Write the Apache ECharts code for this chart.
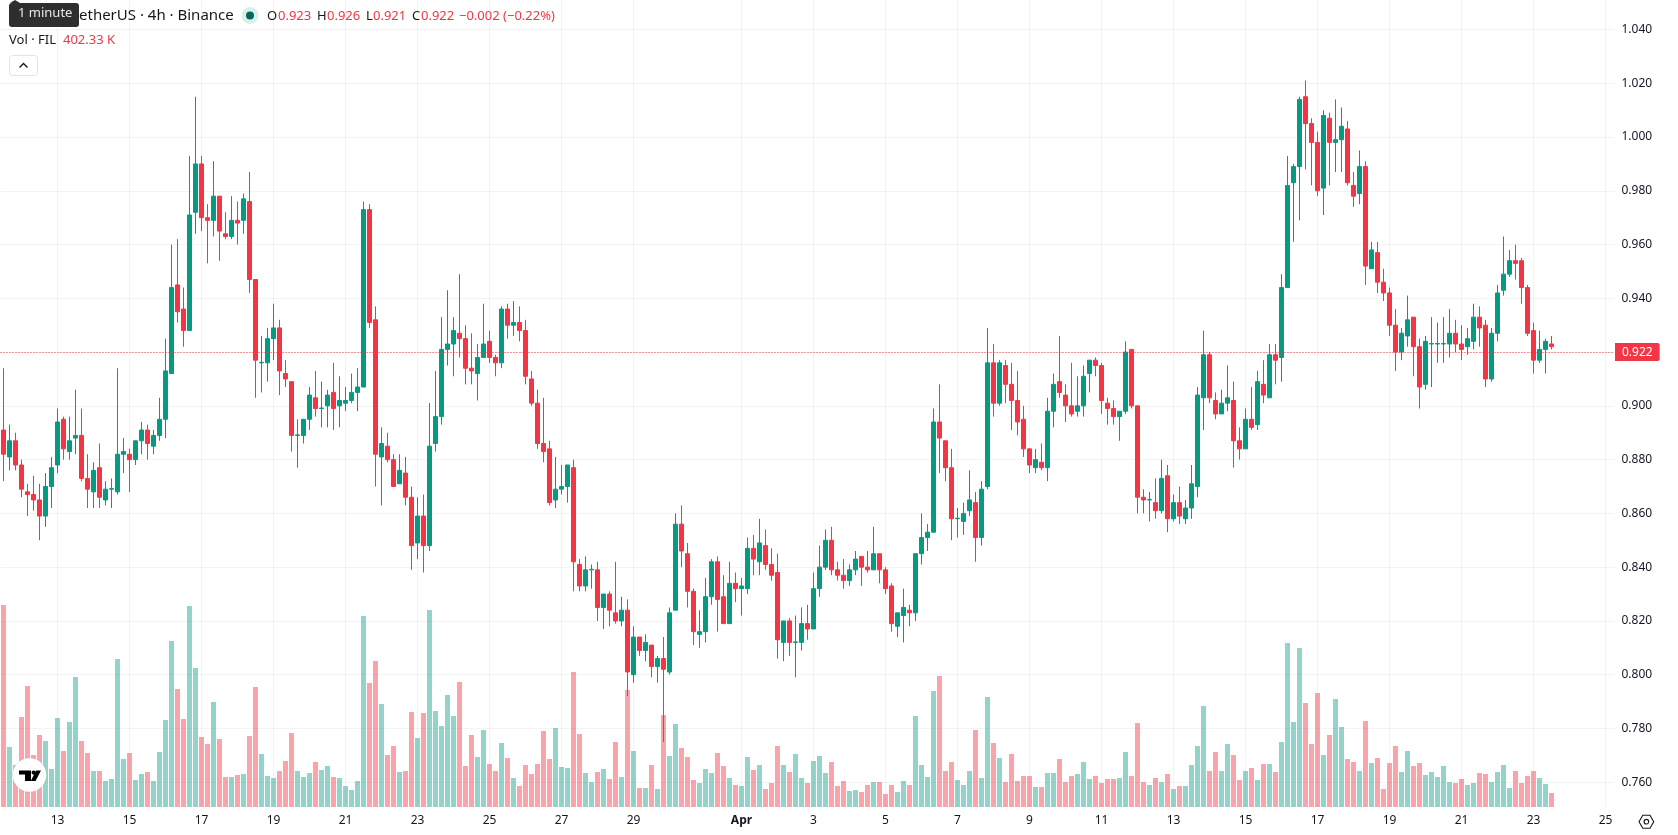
<!DOCTYPE html>
<html>
<head>
<meta charset="utf-8">
<title>FIL / TetherUS 4h</title>
<style>
  html, body { margin: 0; padding: 0; background: #fff; }
  #chart { width: 1678px; height: 835px; }
</style>
<script src="https://cdn.jsdelivr.net/npm/echarts@6/dist/echarts.min.js"></script>
</head>
<body>
<div id="chart"></div>
<script>
// 4h candles, oldest first
const opens = [
  .891,.881,.887,.878,.868,.867,.865,.859,.870,.878,
  .895,.883,.888,.889,.873,.868,.877,.865,.869,.868,
  .882,.882,.880,.887,.891,.885,.889,.895,.912,.945,
  .936,.928,.972,.990,.970,.969,.978,.964,.963,.969,
  .969,.976,.947,.916,.916,.925,.929,.912,.909,.889,
  .889,.895,.903,.899,.900,.905,.900,.901,.902,.905,
  .907,.973,.932,.881,.885,.880,.871,.875,.866,.849,
  .859,.848,.886,.896,.921,.923,.927,.925,.914,.912,
  .918,.924,.918,.916,.936,.930,.931,.928,.910,.901,
  .886,.884,.865,.869,.870,.877,.841,.833,.839,.839,
  .825,.830,.823,.820,.824,.800,.814,.809,.811,.803,
  .806,.801,.824,.856,.845,.831,.815,.816,.829,.842,
  .829,.819,.834,.832,.832,.847,.842,.848,.841,.838,
  .812,.820,.812,.812,.819,.817,.832,.840,.850,.839,
  .837,.835,.839,.844,.840,.839,.845,.839,.833,.818,
  .822,.824,.823,.845,.851,.853,.894,.887,.877,.858,
  .857,.861,.864,.851,.870,.916,.901,.915,.908,.902,
  .895,.884,.877,.879,.877,.898,.909,.904,.900,.898,
  .900,.912,.917,.915,.901,.899,.896,.898,.921,.900,
  .866,.865,.864,.861,.874,.858,.864,.858,.862,.870,
  .903,.919,.902,.897,.901,.902,.887,.884,.895,.893,
  .908,.903,.919,.918,.944,.983,.989,1.015,1.005,.998,
  .981,1.007,.998,.999,1.003,.982,.979,.989,.951,.957,
  .946,.942,.930,.920,.926,.933,.922,.908,.923,.923,
  .923,.923,.927,.923,.922,.924,.933,.930,.910,.927,
  .943,.949,.954,.954,.944,.928,.917,.921,.923
];
const closes = [
  .882,.887,.878,.869,.867,.865,.859,.870,.877,.894,
  .884,.887,.889,.873,.869,.876,.866,.869,.8692,.882,
  .883,.880,.887,.891,.886,.889,.895,.913,.944,.935,
  .928,.971,.990,.970,.969,.978,.965,.963,.969,.968,
  .977,.947,.917,.9162,.925,.929,.913,.910,.889,.8892,
  .895,.904,.899,.8992,.904,.899,.902,.902,.905,.907,
  .973,.931,.882,.886,.880,.870,.876,.866,.848,.859,
  .848,.885,.896,.921,.923,.928,.925,.914,.913,.918,
  .923,.918,.916,.936,.930,.931,.928,.911,.901,.886,
  .883,.864,.869,.870,.878,.842,.833,.839,.8392,.825,
  .830,.824,.820,.824,.801,.814,.809,.812,.803,.806,
  .802,.823,.856,.846,.831,.816,.816,.829,.842,.828,
  .819,.834,.832,.833,.847,.843,.849,.841,.837,.813,
  .820,.812,.8122,.819,.817,.832,.840,.850,.839,.837,
  .835,.839,.843,.840,.839,.845,.839,.832,.819,.823,
  .825,.823,.845,.851,.853,.894,.888,.877,.858,.8582,
  .860,.865,.851,.869,.916,.901,.916,.908,.902,.894,
  .884,.878,.880,.877,.898,.908,.905,.900,.897,.900,
  .911,.917,.915,.902,.899,.896,.898,.920,.900,.866,
  .865,.8652,.861,.873,.858,.864,.859,.862,.871,.904,
  .919,.903,.897,.901,.903,.887,.884,.895,.892,.909,
  .904,.919,.917,.944,.982,.989,1.014,1.005,.998,.980,
  1.008,.998,.999,1.004,.983,.978,.989,.952,.958,.946,
  .942,.930,.920,.927,.932,.922,.907,.924,.9232,.9232,
  .9232,.927,.923,.921,.925,.933,.929,.910,.927,.942,
  .949,.954,.953,.944,.927,.917,.921,.924,.922
];
const highs = [
  .914,.893,.890,.880,.871,.874,.871,.875,.881,.899,
  .896,.896,.906,.899,.882,.879,.886,.872,.873,.914,
  .888,.884,.887,.894,.893,.891,.903,.925,.960,.962,
  .944,.993,1.015,.993,.975,.991,.978,.972,.978,.976,
  .979,.987,.947,.926,.929,.938,.932,.917,.909,.895,
  .895,.907,.913,.909,.906,.916,.911,.907,.912,.914,
  .976,.975,.937,.892,.890,.882,.882,.881,.870,.866,
  .867,.901,.913,.933,.943,.933,.949,.930,.927,.923,
  .938,.928,.919,.937,.938,.939,.937,.932,.913,.906,
  .903,.887,.881,.878,.878,.880,.843,.844,.841,.842,
  .830,.831,.842,.829,.828,.818,.814,.815,.811,.807,
  .814,.825,.860,.863,.849,.832,.824,.836,.843,.844,
  .837,.842,.838,.836,.851,.852,.858,.854,.847,.845,
  .820,.821,.822,.825,.826,.838,.848,.854,.855,.842,
  .843,.841,.846,.844,.846,.855,.845,.840,.834,.823,
  .832,.826,.845,.860,.856,.899,.908,.887,.884,.862,
  .864,.876,.868,.872,.929,.923,.917,.917,.916,.913,
  .900,.884,.884,.886,.903,.912,.926,.908,.916,.911,
  .915,.917,.918,.916,.903,.902,.898,.924,.921,.900,
  .869,.868,.873,.880,.878,.867,.870,.865,.878,.907,
  .928,.920,.905,.906,.915,.909,.892,.899,.907,.913,
  .917,.923,.923,.949,.993,.990,1.015,1.021,1.007,1.002,
  1.010,1.009,1.014,1.011,1.006,.987,.995,.991,.961,.961,
  .951,.944,.936,.929,.941,.933,.925,.926,.933,.931,
  .933,.936,.932,.930,.929,.938,.937,.932,.929,.945,
  .963,.958,.960,.955,.945,.931,.928,.925,.926
];
const lows = [
  .872,.876,.876,.866,.859,.861,.850,.855,.862,.875,
  .880,.880,.882,.872,.862,.862,.862,.863,.862,.867,
  .875,.868,.878,.882,.880,.882,.887,.888,.912,.931,
  .922,.928,.964,.965,.953,.963,.954,.962,.962,.960,
  .964,.942,.903,.905,.909,.917,.904,.907,.883,.877,
  .886,.891,.896,.892,.892,.891,.892,.898,.901,.898,
  .907,.929,.870,.863,.879,.870,.871,.863,.839,.843,
  .838,.846,.883,.893,.915,.911,.918,.908,.908,.902,
  .918,.916,.911,.914,.925,.926,.924,.908,.900,.884,
  .879,.863,.862,.867,.864,.831,.831,.831,.832,.820,
  .817,.818,.819,.818,.792,.797,.807,.805,.799,.797,
  .775,.800,.824,.840,.825,.811,.810,.812,.826,.816,
  .819,.819,.827,.822,.830,.837,.837,.839,.835,.806,
  .805,.807,.799,.809,.813,.817,.829,.839,.837,.835,
  .832,.833,.837,.833,.838,.839,.834,.830,.816,.814,
  .812,.818,.820,.841,.846,.853,.875,.872,.850,.851,
  .852,.859,.842,.848,.869,.896,.900,.901,.891,.889,
  .881,.875,.875,.876,.872,.892,.903,.894,.896,.896,
  .896,.905,.911,.897,.893,.893,.887,.897,.899,.860,
  .860,.857,.858,.860,.853,.857,.856,.856,.858,.866,
  .891,.901,.895,.897,.898,.877,.880,.884,.891,.891,
  .901,.903,.908,.909,.944,.961,.969,.988,.982,.978,
  .971,.982,.987,.987,.982,.974,.975,.945,.951,.942,
  .939,.926,.913,.917,.922,.911,.899,.906,.907,.916,
  .916,.918,.920,.917,.919,.921,.922,.907,.909,.924,
  .941,.948,.947,.938,.926,.912,.916,.912,.921
];
// traded volume per candle, in thousands of FIL
const volumes = [
  5805,1724,1207,2587,3478,1494,2069,1897,1092,2558,
  1609,2443,3736,1897,1552,1035,1035,747,805,4254,
  1380,1552,776,948,1006,747,1581,2500,4771,3391,
  2529,5777,3995,2012,1811,3018,1954,862,862,920,
  948,2041,3449,1523,891,833,1035,1322,2127,1035,
  862,977,1293,1063,1178,862,833,604,489,747,
  5489,3564,4196,2960,1494,1753,1006,1035,2730,1983,
  2702,5662,2759,2328,3219,2615,3593,1178,2069,1437,
  2213,1236,1035,1839,1408,833,604,1207,948,1236,
  2184,1380,2270,1150,1121,3880,2098,977,719,1006,
  1092,805,1868,862,3363,1609,546,546,1207,517,
  2644,1466,2385,1696,1437,776,690,1092,977,1552,
  1178,833,632,604,1437,1063,1207,517,690,1753,
  1207,1006,1523,833,690,1322,1466,977,1293,604,
  747,460,489,431,632,719,719,374,632,431,
  747,632,2615,1207,862,3334,3765,1035,1293,776,
  632,1035,2213,833,3161,1839,1408,719,1523,747,
  891,891,575,575,977,977,1380,719,891,948,
  1293,805,891,690,805,805,833,1581,891,2414,
  719,632,833,719,948,517,604,604,1207,1753,
  2903,1035,1581,1035,1811,1494,776,1035,1121,776,
  1236,1236,1006,1868,4713,2443,4570,2989,1811,3276,
  1494,2069,3104,2299,1380,1293,1035,2472,1265,1408,
  517,1265,1753,1006,1609,1178,1265,920,1006,862,
  1178,719,690,805,632,690,977,948,719,1006,
  1207,546,1035,690,891,1035,833,661,402.33
];
// time scale: slots per day and the labelled days
const slotCount = 269;
const tickSlots = [9,21,33,45,57,69,81,93,105,123,135,147,159,171,183,195,207,219,231,243,255,267];
const tickLabels = ['13','15','17','19','21','23','25','27','29','Apr','3','5','7','9','11','13','15','17','19','21','23','25'];
// price scale
const priceMin = 0.76, priceMax = 1.04, priceStep = 0.02;
const volumeMax = 23192;

const UP = '#089981', DOWN = '#F23645';
const FONT = '"Noto Sans", sans-serif';
const INK = '#131722';

const categories = new Array(slotCount).fill('');
tickSlots.forEach((s, i) => { categories[s] = tickLabels[i]; });
const isTick = (i) => categories[i] !== '';

const last = closes.length - 1;
const candleData = opens.map((o, i) => [o, closes[i], lows[i], highs[i]]);
const volumeData = volumes.map((v, i) => ({
  value: v,
  itemStyle: { color: closes[i] >= opens[i] ? 'rgba(8,153,129,0.43)' : 'rgba(242,54,69,0.45)' }
}));

const plotLeft = 0.5, plotWidth = 1614;

const legendText = (x, y, text, fill, size, weight) => ({
  type: 'text', left: x, top: y - 9, z: 50,
  style: { text, fill, font: `${weight || 400} ${size || 13}px ${FONT}`, textVerticalAlign: 'top', lineHeight: 18 }
});

const graphic = [
  // symbol line
  legendText(79, 16, 'etherUS · 4h · Binance', INK, 15),
  { type: 'circle', z: 50, shape: { cx: 250, cy: 15.5, r: 8.5 }, style: { fill: '#D9EFEB' } },
  { type: 'circle', z: 51, shape: { cx: 250, cy: 15.5, r: 4 }, style: { fill: '#00695C' } },
  legendText(267, 16, 'O', INK),
  legendText(278, 16, opens[last].toFixed(3), DOWN),
  legendText(317, 16, 'H', INK),
  legendText(327, 16, highs[last].toFixed(3), DOWN),
  legendText(366, 16, 'L', INK),
  legendText(373, 16, lows[last].toFixed(3), DOWN),
  legendText(412, 16, 'C', INK),
  legendText(421, 16, closes[last].toFixed(3), DOWN),
  legendText(459, 16, '−0.002 (−0.22%)', DOWN),
  // volume line
  legendText(9, 40, 'Vol · FIL', INK),
  legendText(63, 40, volumes[last].toFixed(2) + ' K', DOWN),
  // collapse button
  { type: 'rect', z: 50, shape: { x: 9.5, y: 55.5, width: 28, height: 20, r: 3 },
    style: { fill: '#fff', stroke: '#E0E3EB', lineWidth: 1 } },
  { type: 'polyline', z: 51, shape: { points: [[19.5, 67.5], [23.5, 63.5], [27.5, 67.5]] },
    style: { stroke: INK, lineWidth: 1.4, fill: null } },
  // hover hint over the symbol name
  { type: 'polygon', z: 60, shape: { points: [[10, 3], [15, 0], [20, 3]] }, style: { fill: '#2E2E2E' } },
  { type: 'rect', z: 60, shape: { x: 9, y: 3, width: 70, height: 24, r: 3 }, style: { fill: '#2E2E2E' } },
  { type: 'text', z: 61, left: 18, top: 7,
    style: { text: '1 minute', fill: '#E8E8E8', font: `400 13px ${FONT}` } },
  // brand badge
  { type: 'circle', z: 40, shape: { cx: 29.5, cy: 775, r: 17 },
    style: { fill: '#fff', stroke: 'rgba(0,0,0,0.08)', lineWidth: 1 } },
  { type: 'polygon', z: 41, shape: { points: [[19, 770.5], [31, 770.5], [31, 781], [25, 781], [25, 774.5], [19, 774.5]] },
    style: { fill: '#000' } },
  { type: 'circle', z: 41, shape: { cx: 33.6, cy: 772.6, r: 2.1 }, style: { fill: '#000' } },
  { type: 'polygon', z: 41, shape: { points: [[36, 770.5], [41, 770.5], [35.5, 781], [30.8, 781]] },
    style: { fill: '#000' } },
  // scale settings button
  { type: 'polygon', z: 41, shape: { points: [[1639, 821.7], [1642.8, 815.2], [1650, 815.2], [1653.7, 821.7], [1650, 828.2], [1642.8, 828.2]] },
    style: { fill: 'none', stroke: INK, lineWidth: 1.1 } },
  { type: 'circle', z: 41, shape: { cx: 1646.4, cy: 821.7, r: 2.3 }, style: { fill: 'none', stroke: INK, lineWidth: 1.1 } }
];

const option = {
  animation: false,
  backgroundColor: '#fff',
  textStyle: { fontFamily: FONT },
  graphic,
  grid: [
    { left: plotLeft, width: plotWidth, top: 29.5, height: 752.7 },
    { left: plotLeft, width: plotWidth, top: 0, height: 807 }
  ],
  xAxis: [
    { type: 'category', gridIndex: 0, data: categories, show: false, boundaryGap: true },
    {
      type: 'category', gridIndex: 1, data: categories, boundaryGap: true,
      axisLine: { show: false },
      axisTick: { show: false },
      splitLine: {
        show: true, alignWithLabel: true,
        interval: (i) => isTick(i),
        lineStyle: { color: 'rgba(42,46,57,0.06)', width: 1 }
      },
      axisLabel: {
        show: true, interval: (i) => isTick(i), margin: 8, hideOverlap: false,
        color: INK, fontSize: 12, fontFamily: FONT,
        formatter: (v) => (v === 'Apr' ? '{b|Apr}' : v),
        rich: { b: { fontWeight: 700, color: INK, fontSize: 12, fontFamily: FONT } }
      }
    }
  ],
  yAxis: [
    {
      type: 'value', gridIndex: 0, position: 'right',
      min: priceMin, max: priceMax, interval: priceStep,
      axisLine: { show: false }, axisTick: { show: false },
      splitLine: { show: true, lineStyle: { color: 'rgba(42,46,57,0.06)', width: 1 } },
      axisLabel: {
        margin: 7, color: INK, fontSize: 12, fontFamily: FONT,
        showMinLabel: true, showMaxLabel: true,
        formatter: (v) => (Math.abs(v - 0.92) < 1e-6 ? '' : v.toFixed(3))
      }
    },
    {
      type: 'value', gridIndex: 1, min: 0, max: volumeMax, show: false,
      splitLine: { show: false }
    }
  ],
  series: [
    {
      name: 'Vol', type: 'bar', xAxisIndex: 1, yAxisIndex: 1, data: volumeData,
      barWidth: 5, z: 2, silent: true,
      markLine: {
        silent: true, symbol: 'none', animation: false, z: 30,
        lineStyle: { opacity: 0 },
        data: [{ yAxis: volumes[last] }],
        label: {
          show: true, position: 'end', distance: 0.5,
          formatter: () => volumes[last].toFixed(2) + ' K',
          color: '#fff', backgroundColor: '#F05350', fontSize: 12, fontFamily: FONT,
          padding: [3, 7], borderRadius: [0, 2, 2, 0]
        }
      }
    },
    {
      name: 'FILUSDT', type: 'candlestick', xAxisIndex: 0, yAxisIndex: 0, data: candleData,
      barWidth: 4, z: 3, silent: true,
      itemStyle: { color: UP, color0: DOWN, borderColor: UP, borderColor0: DOWN, borderWidth: 1 },
      markLine: {
        silent: true, symbol: 'none', animation: false, z: 30,
        lineStyle: { color: DOWN, type: [1, 2], width: 1 },
        data: [{ yAxis: closes[last] }],
        label: {
          show: true, position: 'end', distance: 0.5,
          formatter: () => closes[last].toFixed(3),
          color: '#fff', backgroundColor: DOWN, fontSize: 12, fontFamily: FONT,
          padding: [3, 7], borderRadius: [0, 2, 2, 0]
        }
      }
    }
  ]
};

echarts.init(document.getElementById('chart'), null, { renderer: 'canvas' }).setOption(option);
</script>
</body>
</html>
